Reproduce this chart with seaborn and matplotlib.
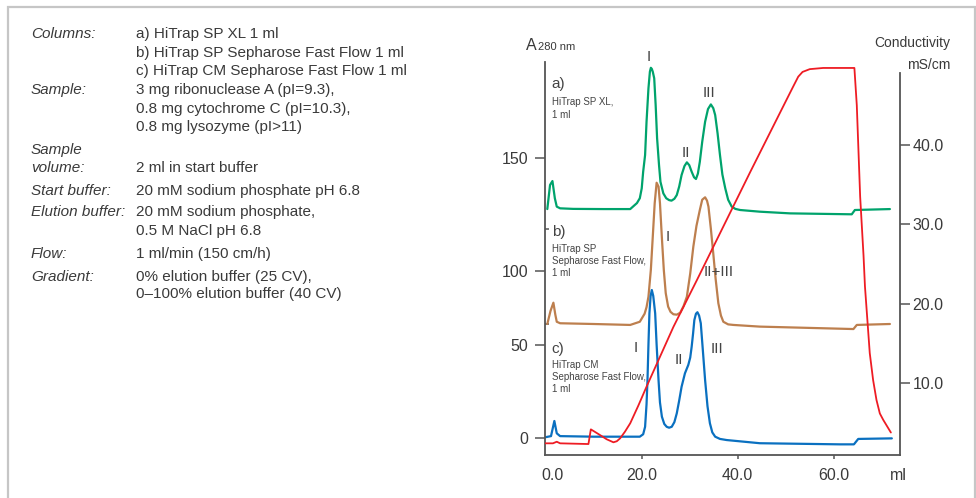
import matplotlib
matplotlib.use("Agg")
import matplotlib.pyplot as plt
import seaborn as sns
from matplotlib.patches import Rectangle

# ---------------- data ----------------
# a) HiTrap SP XL 1 ml  (A280, offset trace)
ml_a = [0.33, 0.9, 1.4, 1.9, 2.3, 3.0, 5.7, 12.0, 17.6, 19.0, 19.6, 20.0, 20.3, 20.7,
        21.0, 21.4, 21.7, 21.9, 22.1, 22.3, 22.6, 22.9, 23.2, 23.6, 23.9, 24.5, 25.1,
        25.7, 26.2, 26.8, 27.3, 27.8, 28.3, 28.9, 29.4, 29.9, 30.4, 30.9, 31.3, 31.7,
        32.1, 32.6, 33.2, 33.8, 34.4, 34.9, 35.3, 35.8, 36.3, 36.8, 37.4, 38.0, 38.75,
        39.5, 40.5, 44.6, 50.9, 63.75, 64.4, 71.7]
a280_a = [122.5, 135.4, 137.5, 128.3, 123.8, 122.9, 122.6, 122.5, 122.5, 125.7, 128.3,
          133.6, 142.5, 151.4, 169.2, 187.1, 196.0, 198.1, 197.5, 196.0, 192.5, 178.2,
          160.4, 146.1, 137.1, 130.9, 128.3, 127.3, 127.0, 128.0, 130.0, 134.5, 140.7,
          145.5, 147.5, 146.0, 142.5, 139.5, 138.6, 141.5, 147.8, 158.5, 169.2, 176.0,
          178.5, 176.5, 172.8, 163.0, 151.4, 141.0, 133.6, 127.5, 123.8, 122.6, 122.0,
          121.1, 120.2, 119.7, 122.0, 122.5]

# b) HiTrap SP Sepharose Fast Flow 1 ml
ml_b = [0.33, 1.0, 1.6, 2.0, 2.3, 3.0, 10.0, 17.6, 19.6, 20.6, 21.0, 21.4, 21.9, 22.3,
        22.7, 23.1, 23.5, 23.8, 24.2, 24.6, 25.0, 25.5, 26.0, 26.6, 27.3, 28.0, 28.7,
        29.4, 30.1, 30.75, 31.4, 32.1, 32.6, 33.2, 33.6, 33.9, 34.4, 34.9, 35.4, 35.96,
        36.5, 37.0, 38.0, 39.1, 44.6, 64.1, 64.8, 71.7]
a280_b = [61.0, 68.0, 72.4, 66.0, 62.2, 61.4, 61.0, 60.5, 62.2, 66.5, 70.0, 75.6, 90.0,
          107.7, 125.6, 136.6, 134.5, 125.6, 107.0, 89.9, 77.5, 70.3, 67.5, 66.2, 66.0,
          67.0, 70.5, 75.6, 88.0, 102.4, 113.5, 122.0, 127.5, 128.8, 127.0, 123.8, 112.0,
          98.8, 85.0, 72.1, 65.5, 62.2, 60.8, 60.5, 59.6, 58.3, 60.5, 61.0]

# c) HiTrap CM Sepharose Fast Flow 1 ml
ml_c = [-0.1, 1.1, 1.8, 2.3, 3.0, 10.0, 19.6, 20.3, 20.7, 21.0, 21.2, 21.4, 21.6, 21.85,
        22.1, 22.4, 22.8, 23.1, 23.5, 23.8, 24.2, 24.7, 25.2, 25.7, 26.25, 26.8, 27.3,
        27.8, 28.3, 29.0, 29.7, 30.1, 30.4, 30.7, 30.96, 31.3, 31.6, 31.95, 32.3, 32.7,
        33.2, 33.7, 34.2, 34.7, 35.3, 36.3, 37.7, 44.6, 61.3, 64.2, 65.1, 72.1]
a280_c = [0.4, 1.0, 9.1, 2.5, 1.0, 0.7, 0.7, 2.0, 6.0, 18.0, 31.0, 50.0, 66.7, 76.0,
          79.2, 76.0, 66.7, 50.0, 31.0, 19.0, 11.4, 7.5, 6.0, 5.5, 6.0, 8.5, 13.2, 20.0,
          27.4, 34.6, 39.1, 43.0, 48.8, 56.0, 63.1, 66.5, 67.3, 65.5, 61.4, 48.0, 31.0,
          17.0, 7.9, 3.0, 0.7, -0.5, -1.1, -2.8, -3.4, -3.4, -0.5, -0.2]

# conductivity (mS/cm)
ml_cond = [-0.1, 1.5, 2.3, 3.0, 8.9, 9.4, 11.0, 12.7, 14.1, 14.8, 15.5, 16.5, 17.6, 19.3,
           21.0, 26.6, 31.5, 42.6, 50.0, 51.5, 52.6, 53.5, 55.0, 57.8, 64.3, 64.8, 65.5,
           66.2, 66.5, 67.5, 68.2, 68.9, 69.6, 70.3, 71.9]
cond = [2.44, 2.44, 2.64, 2.44, 2.35, 4.2, 3.6, 2.95, 2.57, 2.7, 3.07, 3.9, 4.96, 7.2,
        9.57, 17.1, 23.0, 36.6, 45.5, 47.3, 48.6, 49.2, 49.55, 49.7, 49.7, 45.0, 33.5,
        26.1, 22.2, 13.8, 10.4, 7.9, 6.2, 5.4, 3.8]

x_ticks = [1.42, 20, 40, 60, 73.5]
x_ticklabels = ["0.0", "20.0", "40.0", "60.0", "ml"]
left_ticks = [0, 50, 89.5, 150]
left_ticklabels = ["0", "50", "100", "150"]
left_minor = [61.0, 111.8]
right_ticks = [10, 20, 30, 40]
right_ticklabels = ["10.0", "20.0", "30.0", "40.0"]

info_labels = [("Columns:", 34), ("Sample:", 90), ("Sample", 150), ("volume:", 167.7),
               ("Start buffer:", 190.7), ("Elution buffer:", 212.3), ("Flow:", 254),
               ("Gradient:", 276.7)]
info_values = [("a) HiTrap SP XL 1 ml", 34),
               ("b) HiTrap SP Sepharose Fast Flow 1 ml", 52.7),
               ("c) HiTrap CM Sepharose Fast Flow 1 ml", 70.7),
               ("3 mg ribonuclease A (pI=9.3),", 90),
               ("0.8 mg cytochrome C (pI=10.3),", 109),
               ("0.8 mg lysozyme (pI>11)", 126.7),
               ("2 ml in start buffer", 167.7),
               ("20 mM sodium phosphate pH 6.8", 190.7),
               ("20 mM sodium phosphate,", 212.3),
               ("0.5 M NaCl pH 6.8", 231),
               ("1 ml/min (150 cm/h)", 254),
               ("0% elution buffer (25 CV),", 276.7),
               ("0\u2013100% elution buffer (40 CV)", 294.3)]

# ---------------- styling ----------------
sns.set_style("white")
plt.rcParams['font.family'] = ['Liberation Sans', 'DejaVu Sans']

GREEN = '#00a36c'
BROWN = '#bd7f4e'
BLUE = '#0a70c0'
RED = '#ee1c24'
AXC = '#555555'
TXT = '#3a3a3a'

W, H = 976, 498
fig = plt.figure(figsize=(W / 100, H / 100), dpi=100)
ax = fig.add_axes([545 / W, 1 - 455 / H, 355 / W, 393 / H])
ax2 = ax.twinx()

sns.lineplot(x=ml_a, y=a280_a, ax=ax, color=GREEN, lw=1.6, sort=False, estimator=None)
sns.lineplot(x=ml_b, y=a280_b, ax=ax, color=BROWN, lw=1.6, sort=False, estimator=None)
sns.lineplot(x=ml_c, y=a280_c, ax=ax, color=BLUE, lw=1.6, sort=False, estimator=None)
sns.lineplot(x=ml_cond, y=cond, ax=ax2, color=RED, lw=1.3, sort=False, estimator=None)

for ln in ax.lines + ax2.lines:
    ln.set_solid_joinstyle('round')

ax.set_xlim(-0.15, 73.8)
ax.set_ylim(-9.1, 201.2)
ax2.set_ylim(0.97, 50.45)
for a in (ax, ax2):
    a.set_xlabel("")
    a.set_ylabel("")

# spines
for s in ("top", "right"):
    ax.spines[s].set_visible(False)
for s in ("top", "left", "bottom"):
    ax2.spines[s].set_visible(False)
for s in ("left", "bottom"):
    ax.spines[s].set_color(AXC)
    ax.spines[s].set_linewidth(1.3)
ax2.spines["right"].set_color(AXC)
ax2.spines["right"].set_linewidth(1.3)
ax2.spines["right"].set_bounds(0.97, 49.1)

# ticks
ax.set_xticks(x_ticks)
ax.set_xticklabels(x_ticklabels)
ax.tick_params(axis='x', bottom=True, direction='out', length=3, width=1.1,
               color=AXC, labelcolor=TXT, labelsize=11.5, pad=6)
xt = ax.xaxis.get_major_ticks()
xt[0].tick1line.set_visible(False)
xt[-1].tick1line.set_visible(False)

ax.set_yticks(left_ticks)
ax.set_yticklabels(left_ticklabels)
ax.set_yticks(left_minor, minor=True)
ax.tick_params(axis='y', which='major', left=True, direction='out', length=7, width=1.1,
               color=AXC, labelcolor=TXT, labelsize=11.5, pad=5)
ax.tick_params(axis='y', which='minor', left=True, direction='in', length=3, width=1.1,
               color=AXC)

ax2.set_yticks(right_ticks)
ax2.set_yticklabels(right_ticklabels)
ax2.tick_params(axis='y', right=True, direction='out', length=7, width=1.1,
                color=AXC, labelcolor=TXT, labelsize=11.5, pad=2)

# peak annotations
peak_kw = dict(color='#444444', fontsize=11, ha='center', va='center')
ax.text(21.5, 203.9, "I", **peak_kw)
ax.text(29.2, 152.6, "II", **peak_kw)
ax.text(34.1, 184.4, "III", **peak_kw)
ax.text(25.5, 107.7, "I", **peak_kw)
ax.text(36.1, 89.0, "II+III", **peak_kw)
ax.text(18.8, 48.0, "I", **peak_kw)
ax.text(27.8, 41.7, "II", **peak_kw)
ax.text(35.6, 47.5, "III", **peak_kw)

lab_kw = dict(color='#444444', ha='left', va='center')
ax.text(1.25, 189.2, "a)", fontsize=11, **lab_kw)
ax.text(1.25, 176.5, "HiTrap SP XL,\n1 ml", fontsize=7, linespacing=1.35, **lab_kw)
ax.text(1.25, 110.4, "b)", fontsize=11, **lab_kw)
ax.text(1.25, 94.9, "HiTrap SP\nSepharose Fast Flow,\n1 ml", fontsize=7,
        linespacing=1.25, **lab_kw)
ax.text(1.25, 47.5, "c)", fontsize=11, **lab_kw)
ax.text(1.25, 32.8, "HiTrap CM\nSepharose Fast Flow,\n1 ml", fontsize=7,
        linespacing=1.25, **lab_kw)

# axis titles
fig.text(526 / W, 1 - 45 / H, "A", fontsize=11.5, color=TXT, ha='left', va='center')
fig.text(538 / W, 1 - 46.5 / H, "280 nm", fontsize=8, color=TXT, ha='left', va='center')
fig.text(950 / W, 1 - 43.5 / H, "Conductivity", fontsize=10, color=TXT, ha='right', va='center')
fig.text(950.5 / W, 1 - 65 / H, "mS/cm", fontsize=10, color=TXT, ha='right', va='center')

# left info block
for t, y in info_labels:
    fig.text(31 / W, 1 - y / H, t, fontsize=11, style='italic', color=TXT,
             ha='left', va='center')
for t, y in info_values:
    fig.text(136 / W, 1 - y / H, t, fontsize=11, color=TXT, ha='left', va='center')

# outer frame
frame = Rectangle((7.5 / W, -0.05), (974.5 - 7.5) / W, 1.05 - 7.5 / H,
                  transform=fig.transFigure, fill=False, edgecolor='#c6c6c6',
                  lw=1.6, clip_on=False)
fig.patches.append(frame)

fig.savefig("out.png", dpi=100)
